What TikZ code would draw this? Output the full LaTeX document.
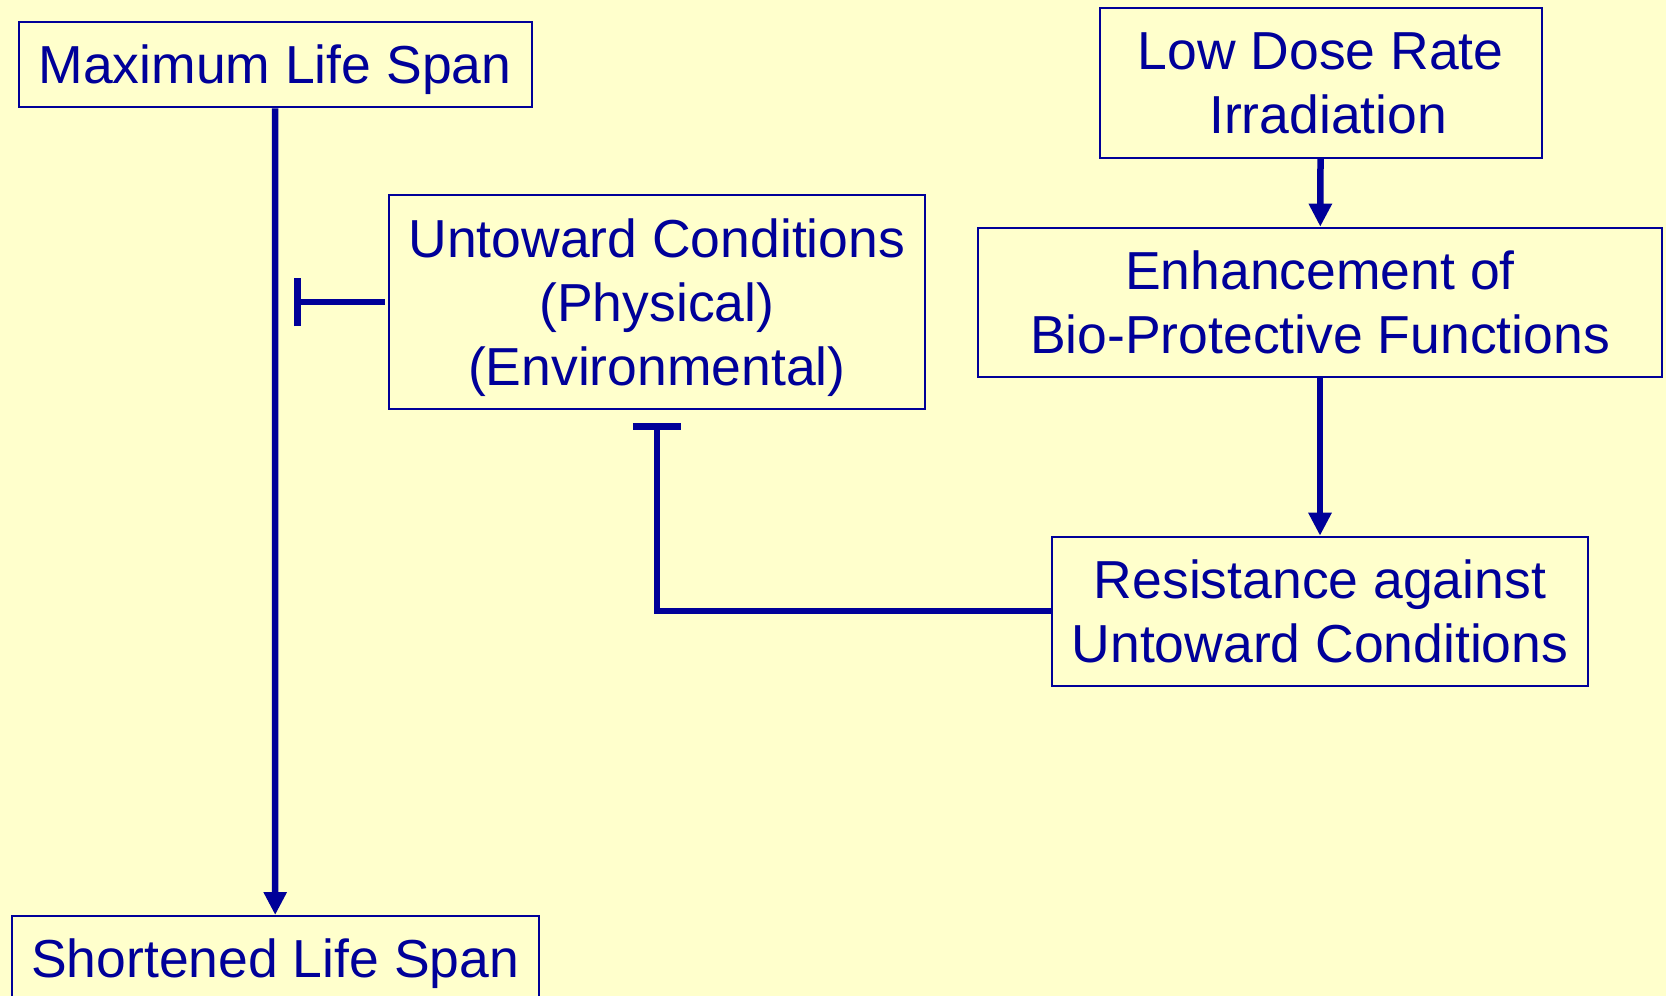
\documentclass[tikz,border=0pt]{standalone}
\usepackage{fontspec}
\setmainfont{Liberation Sans}
\usetikzlibrary{arrows.meta}
\definecolor{bgyellow}{RGB}{255,255,204}
\definecolor{navy}{RGB}{0,0,153}

\tikzset{
  box/.style={draw=navy, line width=1pt, text=navy, align=center, inner sep=0pt,
    text depth=0pt, font=\fontsize{26.75}{32}\selectfont},
  promote/.style={draw=navy, line width=3.25pt, -{Triangle[width=11pt,length=11.5pt]}},
  inhibit/.style={draw=navy, line width=3.25pt, -{Bar[width=24pt]}},
}

\begin{document}
\begin{tikzpicture}[x=0.5pt,y=-0.5pt]
        %Shape: Background
        \fill[bgyellow] (0,0) rectangle (1666,996);
        \useasboundingbox (0,0) rectangle (1666,996);

        % Text Node
        \node[box, minimum width=256.5pt, minimum height=42.8pt] (max) at (275,64.5) {Maximum Life Span};
        % Text Node
        \node[box, minimum width=263.4pt, minimum height=42.5pt] (short) at (275.2,958.5) {Shortened Life Span};
        % Text Node
        \node[box, minimum width=268.3pt, minimum height=107.2pt] (unt) at (656.9,302.2) {Untoward Conditions\\(Physical)\\(Environmental)};
        % Text Node
        \node[box, minimum width=221.2pt, minimum height=74.7pt] (low) at (1320.8,83) {Low Dose Rate\\\hspace*{0.278em}Irradiation};
        % Text Node
        \node[box, minimum width=342pt, minimum height=74.8pt] (enh) at (1320,302.5) {Enhancement of\\Bio-Protective Functions};
        % Text Node
        \node[box, minimum width=268.1pt, minimum height=74.5pt] (res) at (1320,611.2) {Resistance against\\Untoward Conditions};

        %Shape: Arrows
        \draw[promote] (max) -- (short);
        \draw[promote] (low) -- (enh);
        \draw[promote] (enh) -- (res);
        %Shape: Inhibition
        \draw[inhibit, shorten >=9.5pt, shorten <=1.5pt] (unt.west) -- (unt.west -| max.south);
        \draw[inhibit, shorten >=6.5pt] (res.west) -| (unt.south);

\end{tikzpicture}
\end{document}
